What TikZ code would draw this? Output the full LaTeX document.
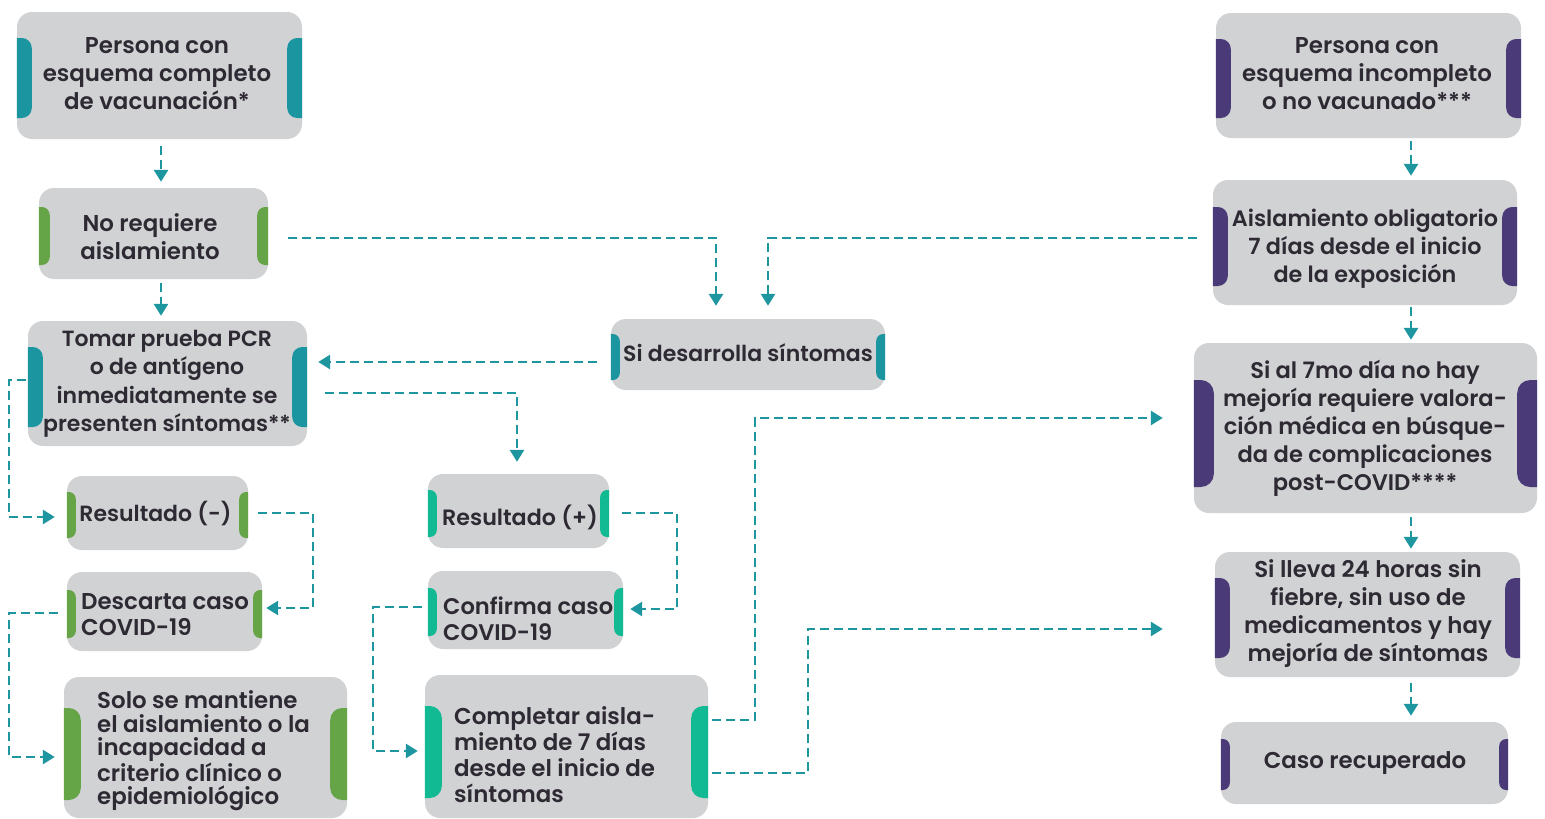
\documentclass[tikz,border=0pt]{standalone}
\usepackage{fontspec}
\setmainfont{Poppins}[BoldFont={Poppins SemiBold}]
\usetikzlibrary{arrows.meta,calc}
\definecolor{boxgray}{HTML}{D1D2D4}
\definecolor{txt}{HTML}{2E2A33}
\definecolor{tealc}{HTML}{1B96A1}
\definecolor{greenc}{HTML}{66A448}
\definecolor{emerc}{HTML}{11BA92}
\definecolor{purplec}{HTML}{4A3B78}
\definecolor{arrc}{HTML}{1E96A0}
\newcommand\sidetabs[6]{% name, color, tab width, tab height, dy, radius
  \begin{scope}
    \clip (#1.south west) rectangle (#1.north east);
    \fill[#2, rounded corners=#6] ($(#1.west)+(-20,{#5-#4/2})$) rectangle ($(#1.west)+(#3,{#5+#4/2})$);
    \fill[#2, rounded corners=#6] ($(#1.east)+(-#3,{#5-#4/2})$) rectangle ($(#1.east)+(20,{#5+#4/2})$);
  \end{scope}}
\begin{document}
\begin{tikzpicture}[x=1pt,y=-1pt,
  box/.style={fill=boxgray, rounded corners=15pt, inner sep=0pt},
  lbl/.style={text=txt, inner sep=0pt, align=center, font=\bfseries\fontsize{22.6}{28}\selectfont},
  lbll/.style={lbl, align=left, anchor=west},
  conn/.style={draw=arrc, line width=2.8pt, dash pattern=on 9pt off 5pt, -{Triangle[width=14pt,length=12pt]}}
]
\useasboundingbox (0,0) rectangle (1545,819);
\coordinate (lx) at (9,0);
\coordinate (rxa) at (313,0);
\coordinate (lxb) at (373,0);
\coordinate (rxb) at (677,0);
\coordinate (rxc) at (755,0);
\coordinate (rxd) at (808,0);

% boxes
\node[box, minimum width=285pt, minimum height=127pt] (A1) at (159.5,75.5) {};
\node[box, minimum width=229pt, minimum height=91pt] (A2) at (153.5,233.5) {};
\node[box, minimum width=279pt, minimum height=125pt] (A3) at (167.5,383.5) {};
\node[box, minimum width=274pt, minimum height=71pt] (A4) at (748,354.5) {};
\node[box, minimum width=181pt, minimum height=74pt] (A5) at (157.5,513) {};
\node[box, minimum width=195pt, minimum height=79pt] (A6) at (164.5,611.5) {};
\node[box, minimum width=283pt, minimum height=141pt] (A7) at (205.5,747.5) {};
\node[box, minimum width=181pt, minimum height=74pt] (B1) at (518.5,511) {};
\node[box, minimum width=195pt, minimum height=78pt] (B2) at (525.5,610) {};
\node[box, minimum width=283pt, minimum height=143pt] (B3) at (566.5,746.5) {};
\node[box, minimum width=305pt, minimum height=125pt] (C1) at (1368.5,75.5) {};
\node[box, minimum width=304pt, minimum height=125pt] (C2) at (1365,242.5) {};
\node[box, minimum width=343pt, minimum height=170pt] (C3) at (1365.5,428) {};
\node[box, minimum width=305pt, minimum height=125pt] (C4) at (1367.5,614.5) {};
\node[box, minimum width=287pt, minimum height=82pt] (C5) at (1364.5,763) {};

% tabs
\sidetabs{A1}{tealc}{15}{80}{2.5}{10pt}
\sidetabs{A2}{greenc}{11}{58}{2.5}{8pt}
\sidetabs{A3}{tealc}{15}{80}{3.5}{10pt}
\sidetabs{A4}{tealc}{9}{46}{2.5}{7pt}
\sidetabs{A5}{greenc}{9}{46}{2}{7pt}
\sidetabs{A6}{greenc}{9}{48}{2.5}{7pt}
\sidetabs{A7}{greenc}{17}{92}{6.5}{12pt}
\sidetabs{B1}{emerc}{9}{47}{2.5}{7pt}
\sidetabs{B2}{emerc}{9}{48}{2}{7pt}
\sidetabs{B3}{emerc}{17}{92}{5.5}{12pt}
\sidetabs{C1}{purplec}{15}{79}{3}{10pt}
\sidetabs{C2}{purplec}{15}{79}{4}{10pt}
\sidetabs{C3}{purplec}{20}{107}{5.5}{13pt}
\sidetabs{C4}{purplec}{15}{80}{3.5}{10pt}
\sidetabs{C5}{purplec}{9}{51}{1.5}{7pt}

% texts
\node[lbl, font=\bfseries\fontsize{22.9}{28}\selectfont] (A1t) at (157,74) {Persona con\\esquema completo\\de vacunación*};
\node[lbl, font=\bfseries\fontsize{22.9}{28}\selectfont] (A2t) at (150,237) {No requiere\\aislamiento};
\node[lbl, font=\bfseries\fontsize{22}{28.5}\selectfont] (A3t) at (167,384) {Tomar prueba PCR\\o de antígeno\\inmediatamente se\\presenten síntomas**};
\node[lbl, font=\bfseries\fontsize{22}{28}\selectfont] (A4t) at (748,353) {Si desarrolla síntomas};
\node[lbl, font=\bfseries\fontsize{22}{28}\selectfont] (A5t) at (155.5,513) {Resultado (-)};
\node[lbll, font=\bfseries\fontsize{22.9}{26}\selectfont] (A6t) at (81,615) {Descarta caso\\COVID-19};
\node[lbll, font=\bfseries\fontsize{22.9}{23.5}\selectfont] (A7t) at (97,751) {Solo se mantiene\\el aislamiento o la\\incapacidad a\\criterio clínico o\\epidemiológico};
\node[lbl, font=\bfseries\fontsize{22.2}{28}\selectfont] (B1t) at (520,517) {Resultado (+)};
\node[lbll, font=\bfseries\fontsize{22.6}{26}\selectfont] (B2t) at (443,619) {Confirma caso\\COVID-19};
\node[lbll, font=\bfseries\fontsize{22.9}{26}\selectfont] (B3t) at (454,755) {Completar aisla-\\miento de 7 días\\desde el inicio de\\síntomas};
\node[lbl, font=\bfseries\fontsize{22.9}{28}\selectfont] (C1t) at (1367,74) {Persona con\\esquema incompleto\\o no vacunado***};
\node[lbl, font=\bfseries\fontsize{22.3}{28}\selectfont] (C2t) at (1365,249) {Aislamiento obligatorio\\7 días desde el inicio\\de la exposición};
\node[lbl] (C3t) at (1365,428) {Si al 7mo día no hay\\mejoría requiere valora-\\ción médica en búsque-\\da de complicaciones\\post-COVID****};
\node[lbl, font=\bfseries\fontsize{22.9}{28}\selectfont] (C4t) at (1368,614) {Si lleva 24 horas sin\\fiebre, sin uso de\\medicamentos y hay\\mejoría de síntomas};
\node[lbl, font=\bfseries\fontsize{22.9}{28}\selectfont] (C5t) at (1365,763) {Caso recuperado};

% connectors
\draw[conn, shorten <=7pt, shorten >=6pt] ([xshift=1.5pt]A1.south) -- ([xshift=1.5pt]A1.south |- A2.north);
\draw[conn, shorten <=4pt, shorten >=5pt] ([xshift=7.5pt]A2.south) -- ([xshift=7.5pt]A2.south |- A3.north);
\draw[conn, shorten <=20pt, shorten >=13pt] ([yshift=-4.5pt]A2.east) -| ([xshift=-32pt]A4.north);
\draw[conn, shorten <=16pt, shorten >=13pt] ([yshift=4.5pt]C2.west) -| ([xshift=20pt]A4.north);
\draw[conn, shorten <=14pt, shorten >=11pt] ([yshift=-7.5pt]A4.west) -- ([yshift=-7.5pt]A4.west -| A3.east);
\draw[conn, shorten <=18pt, shorten >=12pt] ([yshift=-9.5pt]A3.east) -| ([xshift=-1.5pt]B1.north);
\draw[conn, shorten <=2pt, shorten >=12pt] ([yshift=3.5pt]A3.west) -- ([yshift=3.5pt]A3.west -| lx) |- ([yshift=-4pt]A5.west);
\draw[conn, shorten <=10pt, shorten >=4pt] (A5.east) -- (A5.east -| rxa) |- ([yshift=3.5pt]A6.east);
\draw[conn, shorten <=9pt, shorten >=9pt] ([yshift=-1.5pt]A6.west) -- ([yshift=-1.5pt]A6.west -| lx) |- ([yshift=-9.5pt]A7.west);
\draw[conn, shorten <=13pt, shorten >=7pt] ([yshift=-2pt]B1.east) -- ([yshift=-2pt]B1.east -| rxb) |- ([yshift=1pt]B2.east);
\draw[conn, shorten <=6pt, shorten >=7pt] ([yshift=3pt]B2.west) -- ([yshift=3pt]B2.west -| lxb) |- ([yshift=-4.5pt]B3.west);
\draw[conn, shorten <=4pt, shorten >=31pt] ([yshift=26.5pt]B3.east) -- ([yshift=26.5pt]B3.east -| rxc) |- ([yshift=10pt]C3.west);
\draw[conn, shorten <=4pt, shorten >=52pt] ([yshift=-26.5pt]B3.east) -- ([yshift=-26.5pt]B3.east -| rxd) |- ([yshift=-14.5pt]C4.west);
\draw[conn, shorten <=3pt, shorten >=4pt] ([xshift=42.5pt]C1.south) -- ([xshift=42.5pt]C1.south |- C2.north);
\draw[conn, shorten <=2pt, shorten >=3pt] ([xshift=46pt]C2.south) -- ([xshift=46pt]C2.south |- C3.north);
\draw[conn, shorten <=4pt, shorten >=3pt] ([xshift=45.5pt]C3.south) -- ([xshift=45.5pt]C3.south |- C4.north);
\draw[conn, shorten <=6pt, shorten >=6pt] ([xshift=43.5pt]C4.south) -- ([xshift=43.5pt]C4.south |- C5.north);
\end{tikzpicture}
\end{document}
